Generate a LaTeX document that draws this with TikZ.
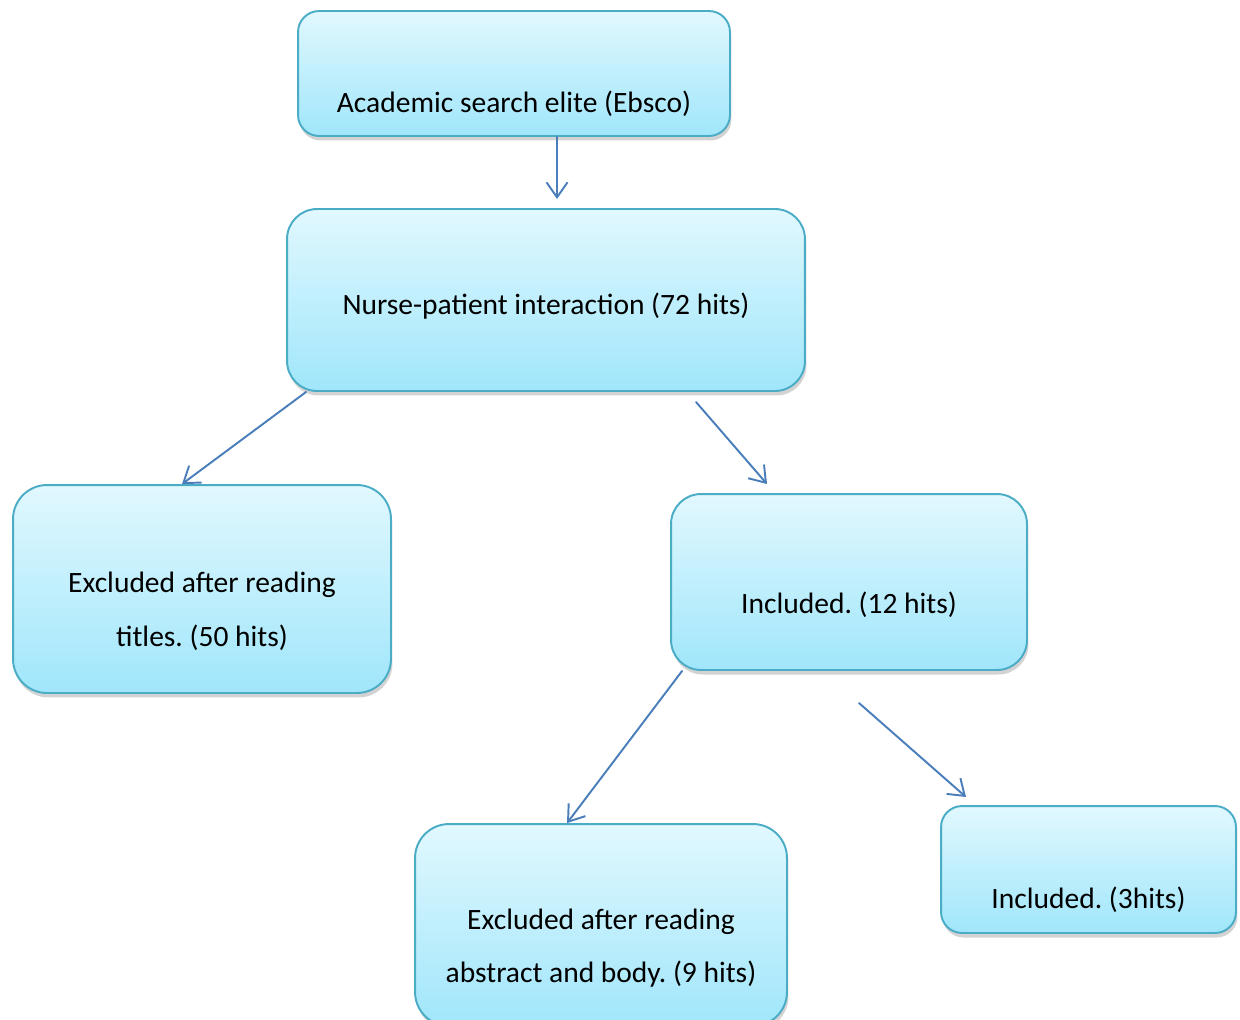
\documentclass[tikz,border=0pt]{standalone}
\usepackage{fontspec}
\setmainfont{Carlito}
\usepackage{xcolor}
\usepackage{tikz}
\usetikzlibrary{arrows.meta, shadows}
\frenchspacing
\definecolor{boxline}{HTML}{4BACC6}
\definecolor{boxtop}{HTML}{E1F8FE}
\definecolor{boxbottom}{HTML}{A0E6FB}
\definecolor{arrowblue}{HTML}{4A7EBB}
\tikzstyle{box} = [draw=boxline, line width=1.1pt, top color=boxtop, bottom color=boxbottom,
    drop shadow={opacity=0.35, shadow xshift=0.03cm, shadow yshift=-0.09cm}]
\tikzstyle{txt} = [align=center, font=\fontsize{16.8pt}{30.6pt}\selectfont, inner sep=0pt]
\tikzstyle{arrow} = [line width=1.1pt, draw=arrowblue, -{Straight Barb[length=0.3cm, width=0.42cm]}]

\begin{document}
\begin{tikzpicture}[line cap=round,line join=round,x=0.02cm,y=-0.02cm]
                \useasboundingbox (0,0) rectangle (1240,1019);
                % boxes
                \node [box, rounded corners=0.42cm, minimum width=8.64cm, minimum height=2.5cm] (search) at (514,73.5) {};
                \node [box, rounded corners=0.6cm, minimum width=10.36cm, minimum height=3.64cm] (nurse) at (546,300) {};
                \node [box, rounded corners=0.68cm, minimum width=7.56cm, minimum height=4.16cm] (extitles) at (202,589) {};
                \node [box, rounded corners=0.6cm, minimum width=7.12cm, minimum height=3.52cm] (inctwelve) at (849,582) {};
                \node [box, rounded corners=0.68cm, minimum width=7.44cm, minimum height=4.04cm] (exabstract) at (601,925) {};
                \node [box, rounded corners=0.42cm, minimum width=5.9cm, minimum height=2.54cm] (incthree) at (1088.5,869.5) {};
                % texts
                \node [txt] (tsearch) at (514,104) {Academic search elite (Ebsco)};
                \node [txt] (tnurse) at (546,306) {Nurse-patient interaction (72 hits)};
                \node [txt] (textitles) at (202,611) {Excluded after reading\\titles. (50 hits)};
                \node [txt] (tinctwelve) at (849,605) {Included. (12 hits)};
                \node [txt] (texabstract) at (601,948) {Excluded after reading\\abstract and body. (9 hits)};
                \node [txt] (tincthree) at (1088.5,900) {Included. (3hits)};
                % free ends
                \coordinate (endsearch) at (557,199);
                \coordinate (startright) at (696,402);
                \coordinate (endright) at (767,484);
                \coordinate (startlow) at (859,703);
                \coordinate (endlow) at (966,797);
                % arrows
                \draw [arrow] (endsearch |- search.south) -- (endsearch);
                \draw [arrow] ([xshift=0.4cm]nurse.south west) -- ([xshift=-0.4cm]extitles.north);
                \draw [arrow] (startright) -- (endright);
                \draw [arrow] ([xshift=0.24cm]inctwelve.south west) -- ([xshift=-0.68cm]exabstract.north);
                \draw [arrow] (startlow) -- (endlow);
            \end{tikzpicture}
\end{document}
